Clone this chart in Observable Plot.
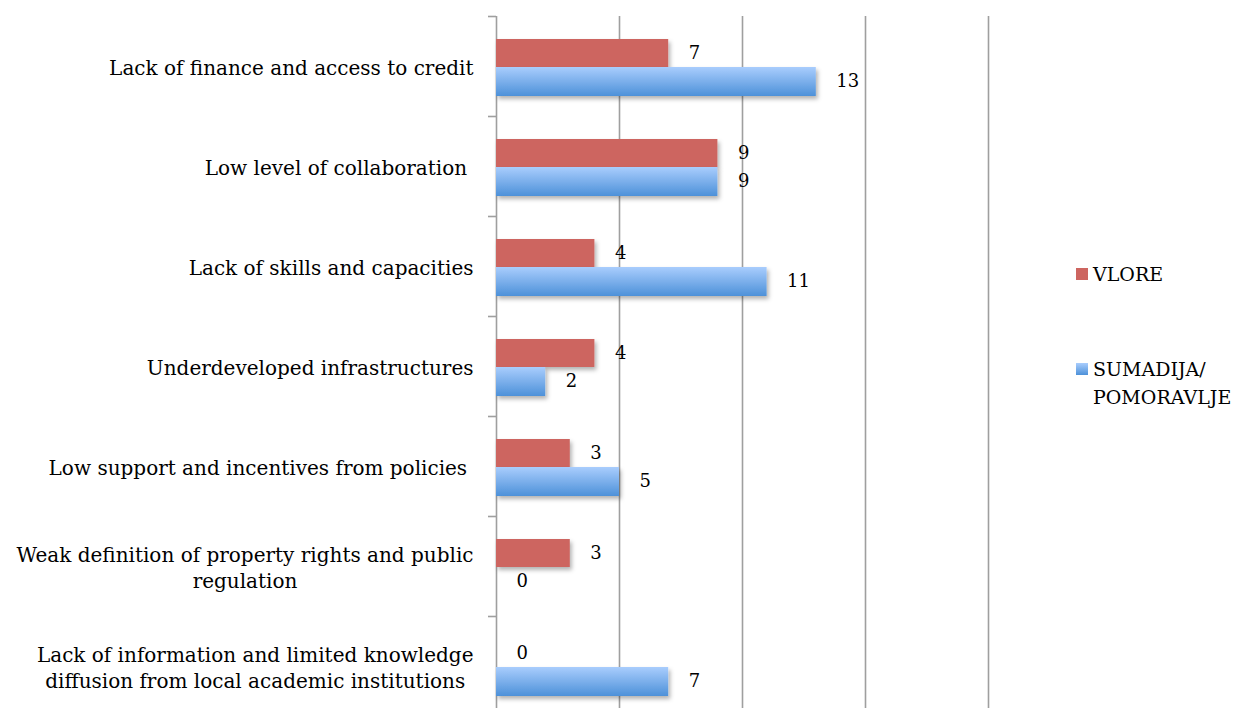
<!DOCTYPE html>
<html>
<head>
<meta charset="utf-8">
<script src="https://cdn.jsdelivr.net/npm/d3@7"></script>
<script src="https://cdn.jsdelivr.net/npm/@observablehq/plot@0.6"></script>
<style>
  html, body { margin: 0; padding: 0; background: #fff; overflow: hidden; }
  #wrap { position: relative; width: 1239px; height: 708px; }
  .legend { position: absolute; font-family: "DejaVu Serif", serif; font-size: 19px; color: #000; line-height: 28px; }
  .sw { position: absolute; width: 12px; height: 12px; }
</style>
</head>
<body>
<div id="wrap"></div>
<script>
const categories = [
  "Lack of finance and access to credit",
  "Low level of collaboration",
  "Lack of skills and capacities",
  "Underdeveloped infrastructures",
  "Low support and incentives from policies",
  "Weak definition of property rights and public regulation",
  "Lack of information and limited knowledge diffusion from local academic institutions"
];
const categoryLabels = [
  "Lack of finance and access to credit",
  "Low level of collaboration\u00a0",
  "Lack of skills and capacities",
  "Underdeveloped infrastructures",
  "Low support and incentives from policies\u00a0",
  "Weak definition of property rights and public\nregulation",
  "Lack of information and limited knowledge\ndiffusion from local academic institutions"
];
const vlore = [7, 9, 4, 4, 3, 3, 0];
const sumadija = [13, 9, 11, 2, 5, 0, 7];
const seriesNames = ["VLORE", "SUMADIJA/\nPOMORAVLJE"];
const gridTicks = [0, 5, 10, 15, 20];

const redData = categories.map((c, i) => ({cat: c, v: vlore[i]}));
const blueData = categories.map((c, i) => ({cat: c, v: sumadija[i]}));
const labelOf = new Map(categories.map((c, i) => [c, categoryLabels[i]]));

const plot = Plot.plot({
  width: 1239,
  height: 716,
  marginLeft: 496,
  marginRight: 251,
  marginTop: 16,
  marginBottom: 0,
  style: {fontFamily: "'DejaVu Serif', serif", fontSize: "20px", color: "#000", background: "#fff"},
  x: {domain: [0, 20], axis: null},
  y: {domain: categories, padding: 0, axis: null, label: null},
  marks: [
    Plot.ruleX(gridTicks, {stroke: "#9f9f9f", strokeWidth: 1.6}),
    Plot.axisY({tickSize: 8, tickFormat: () => "", dy: -50, stroke: "#9f9f9f", strokeWidth: 1.6, label: null}),
    Plot.axisY({tickSize: 0, tickPadding: 23, tickFormat: d => labelOf.get(d), fontSize: 20, lineHeight: 1.33, textOverflow: null, lineWidth: Infinity, label: null}),
    Plot.barX(redData, {x: "v", y: "cat", fill: "#cd6560", insetTop: 23, insetBottom: 49, className: "bars"}),
    Plot.barX(blueData, {x: "v", y: "cat", fill: "url(#blueGrad)", insetTop: 51, insetBottom: 20, className: "bars"}),
    Plot.text(redData, {x: "v", y: "cat", text: d => String(d.v), dx: 20, dy: -13, textAnchor: "start", fontSize: 18, fill: "#000"}),
    Plot.text(blueData, {x: "v", y: "cat", text: d => String(d.v), dx: 20, dy: 15, textAnchor: "start", fontSize: 18, fill: "#000"})
  ]
});

const ns = "http://www.w3.org/2000/svg";
const defs = document.createElementNS(ns, "defs");
defs.innerHTML = `
  <linearGradient id="blueGrad" x1="0" y1="0" x2="0" y2="1">
    <stop offset="0" stop-color="#a9cdfd"/>
    <stop offset="1" stop-color="#4d91d9"/>
  </linearGradient>
  <filter id="shadow" x="-5%" y="-20%" width="115%" height="160%">
    <feDropShadow dx="2" dy="3" stdDeviation="2" flood-color="#000" flood-opacity="0.3"/>
  </filter>`;
plot.insertBefore(defs, plot.firstChild);
plot.querySelectorAll("g.bars").forEach(g => g.setAttribute("filter", "url(#shadow)"));

const wrap = document.getElementById("wrap");
wrap.appendChild(plot);

// Center multi-line category labels within their right-aligned block
plot.querySelectorAll("text").forEach(t => {
  const spans = t.querySelectorAll("tspan");
  if (spans.length > 1) {
    let maxW = 0;
    spans.forEach(s => { maxW = Math.max(maxW, s.getComputedTextLength()); });
    t.setAttribute("text-anchor", "middle");
    spans.forEach(s => s.setAttribute("x", String(-maxW / 2)));
  }
});

// Legend
const colors = ["#cd6560", "linear-gradient(#a9cdfd, #4d91d9)"];
const legendTops = [260, 355];
seriesNames.forEach((name, i) => {
  const sw = document.createElement("div");
  sw.className = "sw";
  sw.style.left = "1076px";
  sw.style.top = (legendTops[i] + 8) + "px";
  sw.style.background = colors[i];
  wrap.appendChild(sw);
  const lab = document.createElement("div");
  lab.className = "legend";
  lab.style.left = "1093px";
  lab.style.top = legendTops[i] + "px";
  lab.innerHTML = name.replace("\n", "<br>");
  wrap.appendChild(lab);
});
</script>
</body>
</html>
